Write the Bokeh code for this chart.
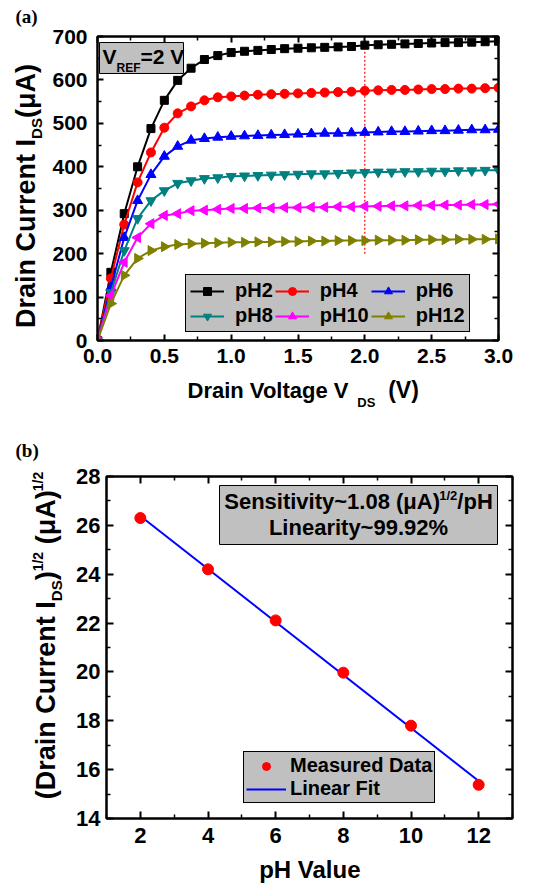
import numpy as np
from math import pi
from bokeh.plotting import figure
from bokeh.models import (Range1d, LinearAxis, FixedTicker, PrintfTickFormatter, Label,
                          Legend, LegendItem, BoxAnnotation)
from bokeh.layouts import column, row
from bokeh.embed import file_html
from bokeh.resources import INLINE

# ---------------- data (a) ----------------
vds = [0.0, 0.1, 0.2, 0.3, 0.4, 0.5, 0.6, 0.7, 0.8, 0.9, 1.0,
       1.1, 1.2, 1.3, 1.4, 1.5, 1.6, 1.7, 1.8, 1.9, 2.0,
       2.1, 2.2, 2.3, 2.4, 2.5, 2.6, 2.7, 2.8, 2.9, 3.0]
ids_ph2 = [0, 157, 292, 400, 488, 553, 599, 627, 647, 656, 663, 666, 668, 670, 672, 673,
           674, 675, 676, 677, 680, 681, 682, 683, 684, 685, 686, 686, 687, 688, 689]
ids_ph4 = [0, 143, 267, 364, 433, 490, 523, 539, 553, 560, 562, 564, 566, 567, 568, 569,
           570, 571, 572, 573, 575, 576, 577, 577, 578, 579, 579, 580, 580, 581, 582]
ids_ph6 = [0, 122, 237, 322, 382, 424, 447, 461, 465, 468, 470, 471, 472, 473, 474, 475,
           476, 477, 477, 478, 479, 480, 481, 481, 482, 483, 483, 484, 485, 485, 486]
ids_ph8 = [0, 110, 207, 281, 322, 345, 362, 368, 373, 375, 378, 379, 380, 381, 382, 383,
           384, 384, 385, 386, 387, 388, 388, 389, 389, 390, 390, 391, 391, 392, 392]
ids_ph10 = [0, 103, 180, 237, 269, 288, 292, 299, 300, 302, 304, 304, 305, 305, 306, 306,
            307, 307, 308, 308, 309, 309, 310, 310, 311, 311, 312, 312, 313, 313, 314]
ids_ph12 = [0, 85, 150, 189, 207, 216, 221, 223, 224, 225, 226, 226, 227, 227, 228, 228,
            229, 229, 230, 230, 230, 231, 231, 231, 232, 232, 232, 233, 233, 233, 234]
series_labels = ["pH2", "pH4", "pH6", "pH8", "pH10", "pH12"]
ref_line_x = [2.0, 2.0]
ref_line_y = [200, 700]
x_ticks_a = [0.0, 0.5, 1.0, 1.5, 2.0, 2.5, 3.0]
x_minor_a = [0.25, 0.75, 1.25, 1.75, 2.25, 2.75]
y_ticks_a = [0, 100, 200, 300, 400, 500, 600, 700]
y_minor_a = [50, 150, 250, 350, 450, 550, 650]

# ---------------- data (b) ----------------
ph_values = [2, 4, 6, 8, 10, 12]
sqrt_ids = [26.30, 24.20, 22.11, 19.97, 17.80, 15.38]
x_ticks_b = [2, 4, 6, 8, 10, 12]
x_minor_b = [1, 3, 5, 7, 9, 11, 13]
y_ticks_b = [14, 16, 18, 20, 22, 24, 26, 28]
y_minor_b = [15, 17, 19, 21, 23, 25, 27]

FONT = "Liberation Sans"
W = {' ': .278, '(': .333, ')': .333, '/': .278, '.': .278, '~': .584, '=': .584, '%': .889,
     'A': .722, 'C': .722, 'D': .722, 'E': .667, 'F': .611, 'H': .722, 'I': .278, 'L': .611,
     'M': .833, 'R': .722, 'S': .667, 'V': .667, 'a': .556, 'd': .611, 'e': .556, 'g': .611,
     'i': .278, 'l': .278, 'n': .611, 'o': .611, 'p': .611, 'r': .389, 's': .556, 't': .333,
     'u': .611, 'v': .556, 'y': .556, 'μ': .577}
for d in "0123456789":
    W[d] = .556
BASE_FIX = 0.31   # observed baseline offset of rotated/unrotated labels, in em


def tw(s, size):
    return sum(W.get(c, .6) for c in s) * size


def rich(p, fl, fb, x, y, pieces, align="left", vertical=False, font=FONT):
    """Place text pieces; (fl, fb) = page position of the frame's left / bottom edge."""
    total = sum(tw(t, s) for t, s, _ in pieces)
    pos = {"left": 0, "center": -total / 2, "right": -total}[align]
    for t, s, sh in pieces:
        lead = tw(t[:len(t) - len(t.lstrip(' '))], s)
        q = pos + lead
        shift = sh - BASE_FIX * s
        if vertical:
            px, py, ang = x + shift, y - q, pi / 2
        else:
            px, py, ang = x + q, y + shift, 0
        p.add_layout(Label(x=px - fl, y=fb - py, x_units="screen", y_units="screen",
                           text=t.strip(' '), angle=ang, text_font=font,
                           text_font_size=f"{s}px", text_font_style="bold",
                           text_color="black", text_baseline="alphabetic", text_align="left"))
        pos += tw(t, s)


def box(p, fl, fb, x0, y0, x1, y1):
    p.add_layout(BoxAnnotation(left=x0 - fl, right=x1 - fl, top=fb - y0, bottom=fb - y1,
                               left_units="screen", right_units="screen",
                               top_units="screen", bottom_units="screen",
                               fill_color="#c0c0c0", fill_alpha=1, line_color="black",
                               line_alpha=1, line_width=1))


def style_axes(p, xt, xminor, yt, yminor, fsize, xstand, ystand, xfmt=None, tick=6):
    xa = [p.below[0], LinearAxis()]
    ya = [p.left[0], LinearAxis()]
    p.add_layout(xa[1], "above")
    p.add_layout(ya[1], "right")
    for ax in xa + ya:
        isx = ax in xa
        ax.axis_label = None
        ax.ticker = FixedTicker(ticks=xt if isx else yt, minor_ticks=xminor if isx else yminor)
        ax.axis_line_width = 2
        ax.axis_line_color = "black"
        ax.major_tick_in = tick
        ax.major_tick_out = 0
        ax.minor_tick_in = tick // 2 + 1
        ax.minor_tick_out = 0
        ax.major_tick_line_width = 2
        ax.minor_tick_line_width = 1.5
        ax.major_tick_line_color = "black"
        ax.minor_tick_line_color = "black"
        ax.major_label_text_font = FONT
        ax.major_label_text_font_style = "bold"
        ax.major_label_text_color = "black"
        ax.major_label_text_font_size = f"{fsize}px"
        ax.major_label_standoff = xstand if isx else ystand
        if isx and xfmt:
            ax.formatter = PrintfTickFormatter(format=xfmt)
    for ax, ticks in ((xa[1], xt), (ya[1], yt)):
        ax.major_label_overrides = {t: "" for t in ticks}
        ax.major_label_standoff = 0
    p.xgrid.visible = False
    p.ygrid.visible = False
    p.outline_line_color = "black"
    p.outline_line_width = 2


def strip(w, h, left=0, right=0):
    s = figure(width=w, height=h, x_range=Range1d(0, 1), y_range=Range1d(0, 1),
               x_axis_type=None, y_axis_type=None, output_backend="svg",
               toolbar_location=None, tools="", min_border=0, min_border_left=left,
               min_border_right=right, min_border_top=0, min_border_bottom=0)
    s.outline_line_color = None
    return s


# Page layout (page px from the top-left corner):
#   panel a: y 0..438  -> strip a (x 0..48) | p1 (x 48..526, y 0..374) over x-label strip
#   panel b: y 438..884 -> strip b (x 0..70) | p2 (x 70..526, y 438..854) over x-label strip
# ================= figure (a) =================
FL1, FB1 = 97, 340
p1 = figure(width=478, height=374, x_range=Range1d(0, 3), y_range=Range1d(0, 700),
            output_backend="svg", toolbar_location=None, tools="",
            min_border_left=49, min_border_right=28, min_border_top=36, min_border_bottom=34)
style_axes(p1, x_ticks_a, x_minor_a, y_ticks_a, y_minor_a, 21, 8, 10, xfmt="%.1f")

p1.line(ref_line_x, ref_line_y, line_color="red", line_width=1.2, line_dash="2 2")

specs = [
    (ids_ph2, "black", "square", 8, 0),
    (ids_ph4, "red", "circle", 9, 0),
    (ids_ph6, "blue", "triangle", 10, 0),
    (ids_ph8, "#008080", "inverted_triangle", 10, 0),
    (ids_ph10, "magenta", "triangle", 10, pi / 2),
    (ids_ph12, "#808000", "triangle", 10, -pi / 2),
]
items = []
for (ys, col, mk, sz, ang), lab in zip(specs, series_labels):
    lr = p1.line(vds, ys, line_color=col, line_width=2)
    sr = p1.scatter(vds, ys, marker=mk, size=sz, angle=ang, fill_color=col, line_color=col)
    items.append(LegendItem(label=lab, renderers=[lr, sr]))

leg1 = Legend(items=items, ncols=3, location=(88, 8), orientation="horizontal",
              background_fill_color="#c0c0c0", background_fill_alpha=1,
              border_line_color="black", border_line_width=1, border_line_alpha=1,
              label_text_font=FONT, label_text_font_style="bold", label_text_font_size="20px",
              label_text_color="black", glyph_width=34, glyph_height=20, label_height=20,
              label_standoff=11, spacing=2, padding=4, margin=0)
p1.add_layout(leg1)

box(p1, FL1, FB1, 99, 42, 183, 73)
rich(p1, FL1, FB1, 102, 63, [("V", 21, 0), ("REF", 12, 8), ("=2 V", 21, 0)])

sa = strip(48, 438)                        # page x 0..48, y 0..438
rich(sa, 0, 438, 34, 196, [("Drain Current I", 27, 0), ("DS", 15, 7), ("(μA)", 27, 0)],
     align="center", vertical=True)
rich(sa, 0, 438, 15, 22, [("(a)", 19, 0)], font="Liberation Serif")

xa_strip = strip(478, 64, left=49, right=28)   # frame spans page x 97..498, y 374..438
rich(xa_strip, FL1, 438, 187, 397,
     [("Drain Voltage V", 22, 0), ("  DS", 13, 9), ("  (V)", 23, 0)])

# ================= figure (b) =================
FL2, FB2 = 106, 818
p2 = figure(width=456, height=416, x_range=Range1d(1, 13), y_range=Range1d(14, 28),
            output_backend="svg", toolbar_location=None, tools="",
            min_border_left=36, min_border_right=14, min_border_top=38, min_border_bottom=36)
style_axes(p2, x_ticks_b, x_minor_b, y_ticks_b, y_minor_b, 22, 9, 6, tick=7)

slope, icpt = np.polyfit(ph_values, sqrt_ids, 1)
fit_x = [ph_values[0], ph_values[-1]]
fit_y = [slope * v + icpt for v in fit_x]
fr = p2.line(fit_x, fit_y, line_color="blue", line_width=2)
mr = p2.scatter(ph_values, sqrt_ids, marker="circle", size=11, fill_color="red", line_color="red")

leg2 = Legend(items=[LegendItem(label="Measured Data", renderers=[mr]),
                     LegendItem(label="Linear Fit", renderers=[fr])],
              location=(137, 15), background_fill_color="#c0c0c0", background_fill_alpha=1,
              border_line_color="black", border_line_width=1, border_line_alpha=1,
              label_text_font=FONT, label_text_font_style="bold", label_text_font_size="20px",
              label_text_color="black", glyph_width=40, glyph_height=20, label_height=20,
              label_standoff=4, spacing=0, padding=2, margin=0)
p2.add_layout(leg2)

box(p2, FL2, FB2, 219, 485, 497, 544)
rich(p2, FL2, FB2, 358, 508,
     [("Sensitivity~1.08 (μA)", 22, 0), ("1/2", 13, -9), ("/pH", 22, 0)], align="center")
rich(p2, FL2, FB2, 358, 534, [("Linearity~99.92%", 22, 0)], align="center")

sb = strip(70, 446)                        # page x 0..70, y 438..884
rich(sb, 0, 884, 54, 635,
     [("(Drain Current I", 27, 0), ("DS", 15, 7), (")", 27, 0), ("1/2", 14, -12),
      (" (μA)", 27, 0), ("1/2", 14, -12)], align="center", vertical=True)
rich(sb, 0, 884, 15, 456, [("(b)", 19, 0)], font="Liberation Serif")

xb_strip = strip(456, 30, left=36, right=14)   # frame spans page x 106..512, y 854..884
rich(xb_strip, FL2, 884, 310, 876, [("pH Value", 24, 0)], align="center")

layout = column(row(sa, column(p1, xa_strip, spacing=0), spacing=0),
                row(sb, column(p2, xb_strip, spacing=0), spacing=0), spacing=0)
open("out.html", "w").write(file_html(layout, INLINE))
